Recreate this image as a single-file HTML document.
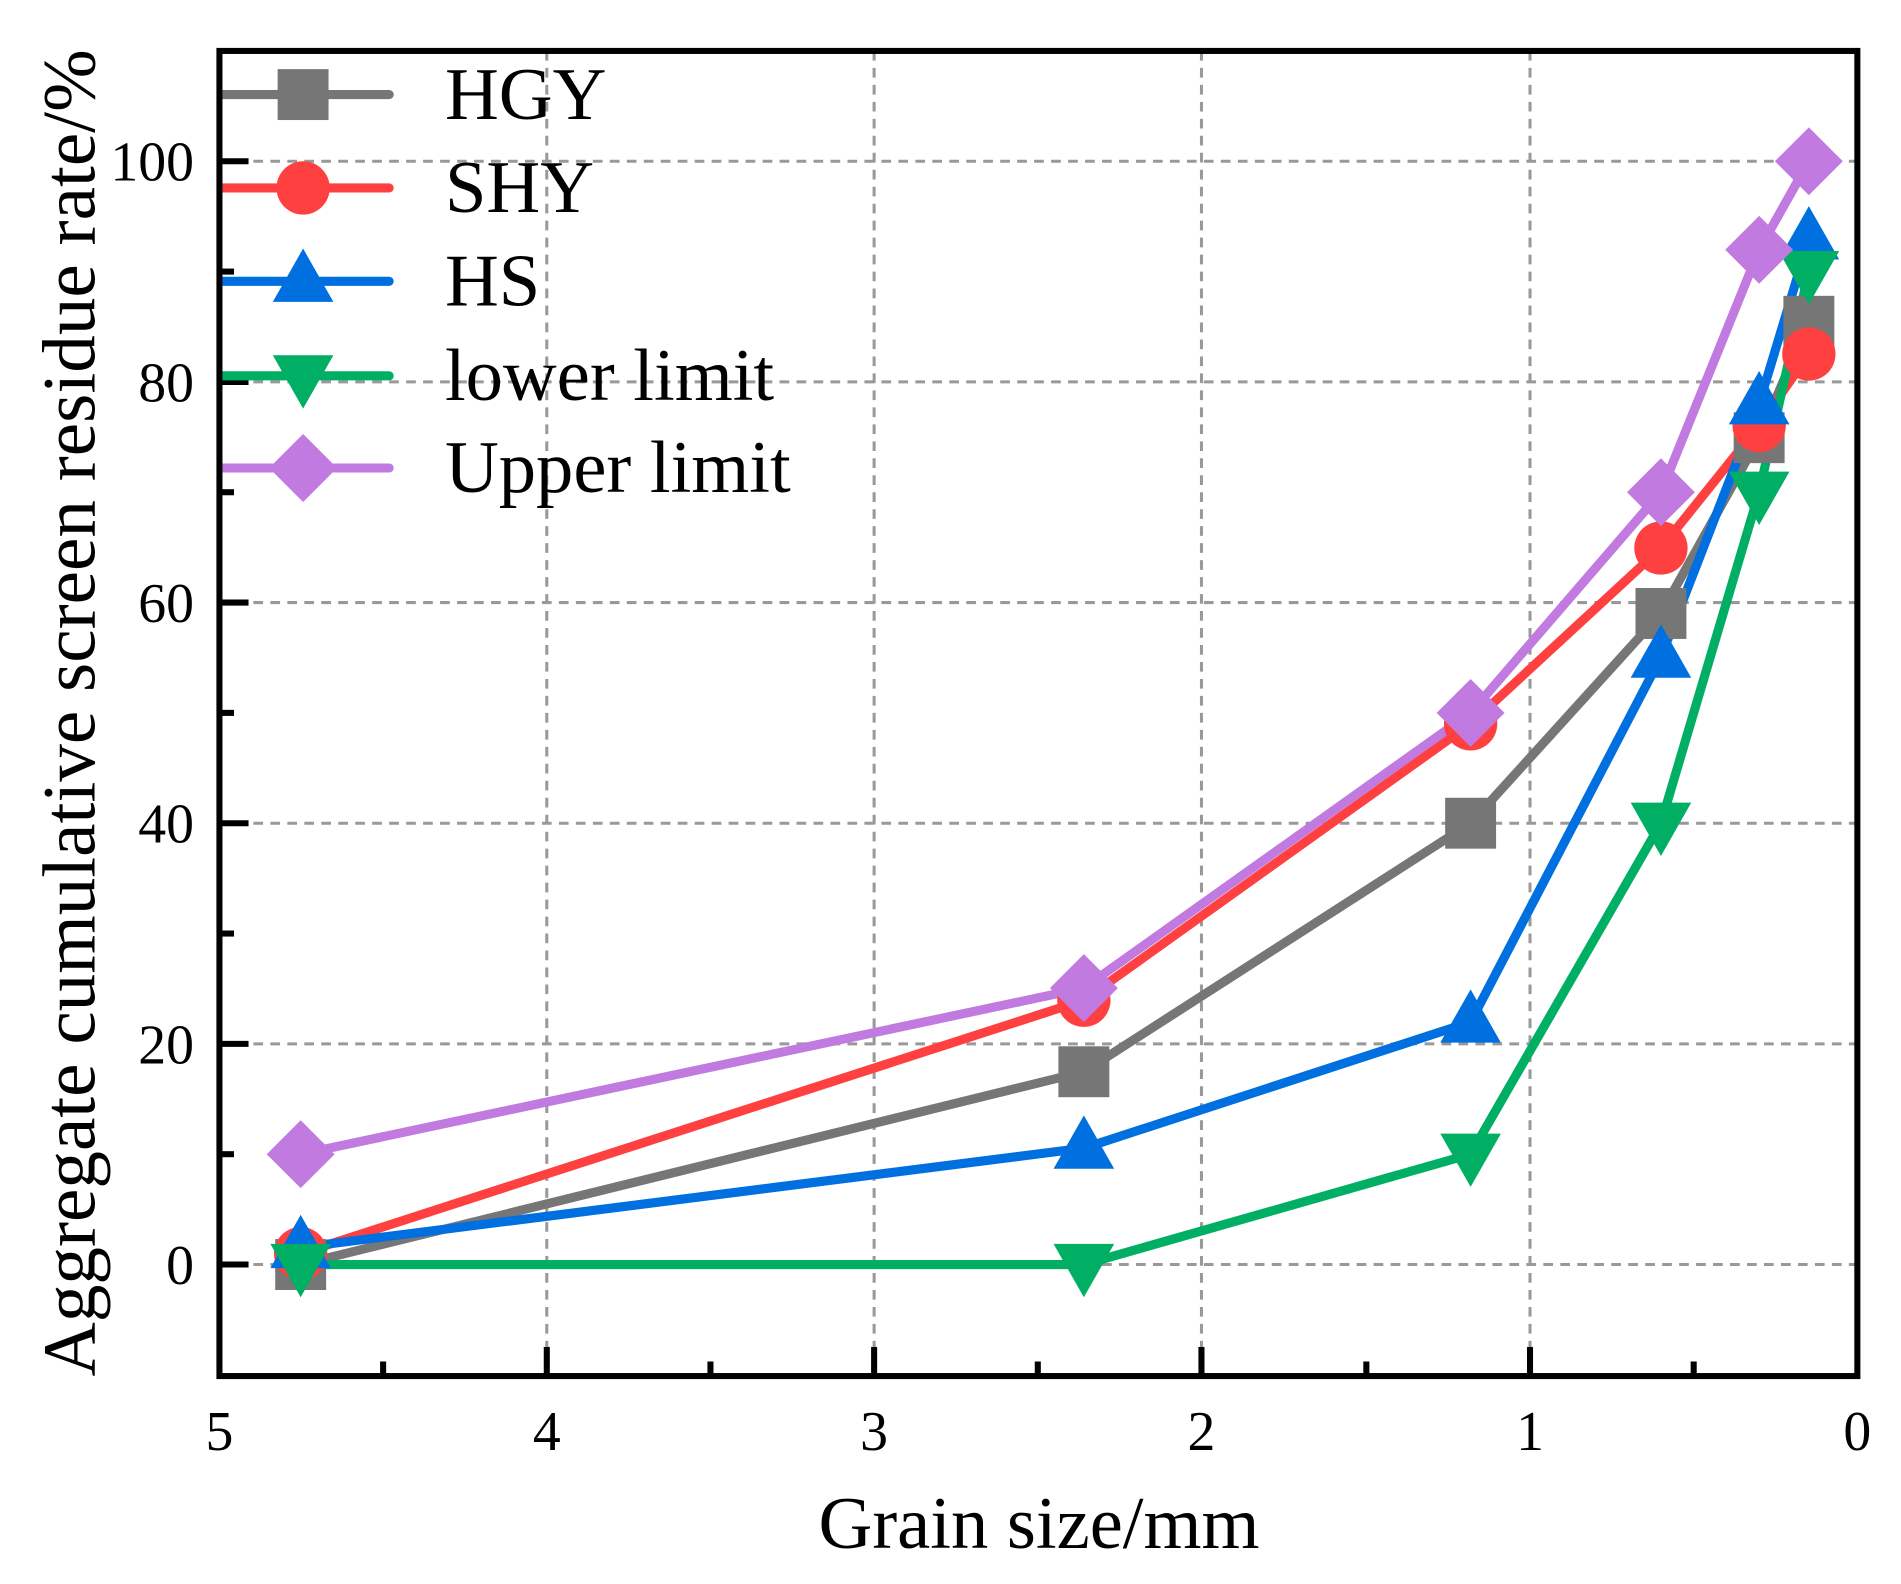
<!DOCTYPE html>
<html><head><meta charset="utf-8"><style>html,body{margin:0;padding:0;background:#fff}svg{display:block}</style></head>
<body>
<svg width="1901" height="1584" viewBox="0 0 1568 1306.5" xmlns="http://www.w3.org/2000/svg" font-family="Liberation Serif, serif">
<defs>
<rect id="sq" x="-21" y="-21" width="42" height="42" fill="#767676"/>
<circle id="ci" r="22" fill="#FF4040"/>
<polygon id="tu" points="0,-27 25,17 -25,17" fill="#0070E0"/>
<polygon id="td" points="0,27 25,-17 -25,-17" fill="#00AF64"/>
<polygon id="di" points="0,-28 28,0 0,28 -28,0" fill="#C07AE0"/>
</defs>
<g stroke="#999" stroke-width="2.5" stroke-dasharray="8,6">
<line x1="451" y1="42" x2="451" y2="1135"/><line x1="721" y1="42" x2="721" y2="1135"/><line x1="991" y1="42" x2="991" y2="1135"/><line x1="1262" y1="42" x2="1262" y2="1135"/>
<line x1="181" y1="1043" x2="1532" y2="1043"/><line x1="181" y1="861" x2="1532" y2="861"/><line x1="181" y1="679" x2="1532" y2="679"/><line x1="181" y1="497" x2="1532" y2="497"/><line x1="181" y1="315" x2="1532" y2="315"/><line x1="181" y1="133" x2="1532" y2="133"/>
</g>
<g stroke="#000" stroke-width="5">
<line x1="451" y1="1135" x2="451" y2="1111"/><line x1="721" y1="1135" x2="721" y2="1111"/><line x1="991" y1="1135" x2="991" y2="1111"/><line x1="1262" y1="1135" x2="1262" y2="1111"/>
<line x1="316" y1="1135" x2="316" y2="1123"/><line x1="586" y1="1135" x2="586" y2="1123"/><line x1="856" y1="1135" x2="856" y2="1123"/><line x1="1127" y1="1135" x2="1127" y2="1123"/><line x1="1397" y1="1135" x2="1397" y2="1123"/>
<line x1="181" y1="1043" x2="205" y2="1043"/><line x1="181" y1="861" x2="205" y2="861"/><line x1="181" y1="679" x2="205" y2="679"/><line x1="181" y1="497" x2="205" y2="497"/><line x1="181" y1="315" x2="205" y2="315"/><line x1="181" y1="133" x2="205" y2="133"/>
<line x1="181" y1="952" x2="193" y2="952"/><line x1="181" y1="770" x2="193" y2="770"/><line x1="181" y1="588" x2="193" y2="588"/><line x1="181" y1="406" x2="193" y2="406"/><line x1="181" y1="224" x2="193" y2="224"/>
</g>
<g fill="none" stroke-width="7.5" stroke-linejoin="round" stroke-linecap="round">
<polyline stroke="#767676" points="248,1043 894,884 1213,679 1370,506 1451,361 1492,265"/>
<polyline stroke="#FF4040" points="248,1034 894,825 1213,597 1370,452 1451,351 1492,292"/>
<polyline stroke="#0070E0" points="248,1029 894,947 1213,843 1370,542 1451,333 1492,197"/>
<polyline stroke="#00AF64" points="248,1043 894,1043 1213,952 1370,679 1451,406 1492,224"/>
<polyline stroke="#C07AE0" points="248,952 894,815 1213,588 1370,406 1451,206 1492,133"/>
</g>
<g>
<use href="#sq" x="248" y="1043"/><use href="#sq" x="894" y="884"/><use href="#sq" x="1213" y="679"/><use href="#sq" x="1370" y="506"/><use href="#sq" x="1451" y="361"/><use href="#sq" x="1492" y="265"/>
<use href="#ci" x="248" y="1034"/><use href="#ci" x="894" y="825"/><use href="#ci" x="1213" y="597"/><use href="#ci" x="1370" y="452"/><use href="#ci" x="1451" y="351"/><use href="#ci" x="1492" y="292"/>
<use href="#tu" x="248" y="1029"/><use href="#tu" x="894" y="947"/><use href="#tu" x="1213" y="843"/><use href="#tu" x="1370" y="542"/><use href="#tu" x="1451" y="333"/><use href="#tu" x="1492" y="197"/>
<use href="#td" x="248" y="1043"/><use href="#td" x="894" y="1043"/><use href="#td" x="1213" y="952"/><use href="#td" x="1370" y="679"/><use href="#td" x="1451" y="406"/><use href="#td" x="1492" y="224"/>
<use href="#di" x="248" y="952"/><use href="#di" x="894" y="815"/><use href="#di" x="1213" y="588"/><use href="#di" x="1370" y="406"/><use href="#di" x="1451" y="206"/><use href="#di" x="1492" y="133"/>
</g>
<g stroke-width="7.5" stroke-linecap="round">
<line x1="183" y1="78" x2="321" y2="78" stroke="#767676"/><use href="#sq" x="250" y="78"/>
<line x1="183" y1="155" x2="321" y2="155" stroke="#FF4040"/><use href="#ci" x="250" y="155"/>
<line x1="183" y1="232" x2="321" y2="232" stroke="#0070E0"/><use href="#tu" x="250" y="232"/>
<line x1="183" y1="310" x2="321" y2="310" stroke="#00AF64"/><use href="#td" x="250" y="310"/>
<line x1="183" y1="386" x2="321" y2="386" stroke="#C07AE0"/><use href="#di" x="250" y="386"/>
</g>
<g font-size="61.5" fill="#000">
<text x="367" y="98">HGY</text><text x="367" y="175">SHY</text><text x="367" y="252">HS</text><text x="367" y="330">lower limit</text><text x="367" y="406">Upper limit</text>
</g>
<rect x="181" y="42" width="1351" height="1093" fill="none" stroke="#000" stroke-width="5"/>
<g font-size="46" fill="#000" text-anchor="middle">
<text x="181" y="1196">5</text><text x="451" y="1196">4</text><text x="721" y="1196">3</text><text x="991" y="1196">2</text><text x="1262" y="1196">1</text><text x="1532" y="1196">0</text>
</g>
<g font-size="46" fill="#000" text-anchor="end">
<text x="160" y="1059">0</text><text x="160" y="877">20</text><text x="160" y="695">40</text><text x="160" y="513">60</text><text x="160" y="331">80</text><text x="160" y="149">100</text>
</g>
<text x="857" y="1277" font-size="61.5" text-anchor="middle">Grain size/mm</text>
<text transform="translate(78,588) rotate(-90)" font-size="62" text-anchor="middle">Aggregate cumulative screen residue rate/%</text>
</svg>
</body></html>
